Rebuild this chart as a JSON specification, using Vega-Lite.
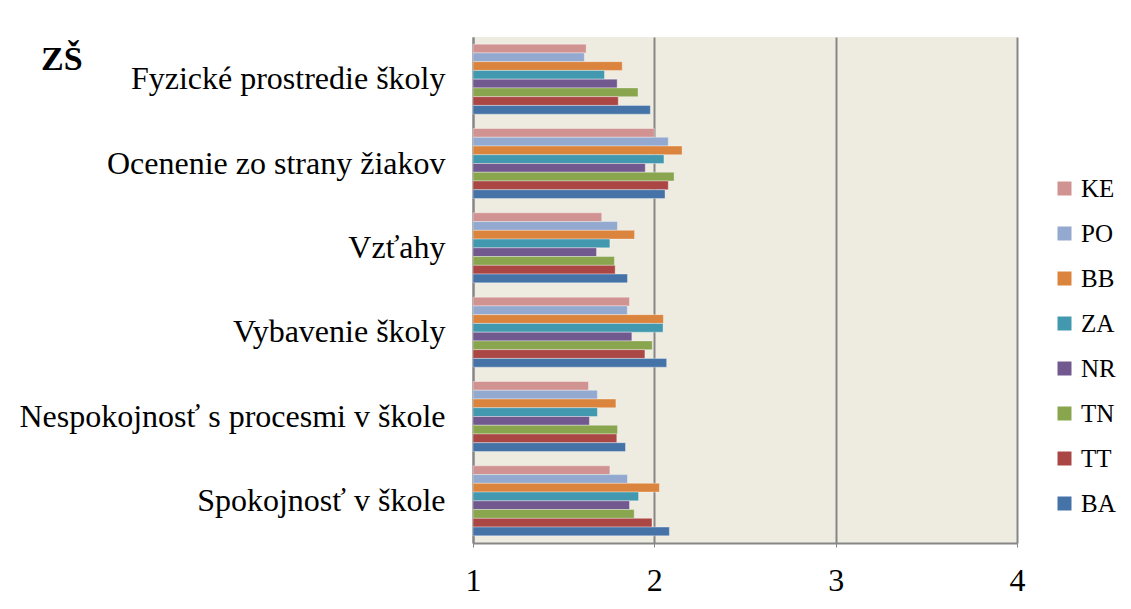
{
  "$schema": "https://vega.github.io/schema/vega-lite/v6.json",
  "width": 544,
  "height": 506,
  "autosize": {"type": "none"},
  "padding": {"left": 473, "top": 37, "right": 114, "bottom": 66},
  "background": "white",
  "title": {"text": "ZŠ", "anchor": "start", "frame": "group", "dx": -432, "dy": 0, "offset": -40, "baseline": "top", "font": "Liberation Serif", "fontSize": 34, "fontWeight": "bold", "color": "black"},
  "data": {"values": [
    {"cat": "Fyzické prostredie školy", "reg": "KE", "v": 1.624},
    {"cat": "Fyzické prostredie školy", "reg": "PO", "v": 1.614},
    {"cat": "Fyzické prostredie školy", "reg": "BB", "v": 1.823},
    {"cat": "Fyzické prostredie školy", "reg": "ZA", "v": 1.725},
    {"cat": "Fyzické prostredie školy", "reg": "NR", "v": 1.795},
    {"cat": "Fyzické prostredie školy", "reg": "TN", "v": 1.91},
    {"cat": "Fyzické prostredie školy", "reg": "TT", "v": 1.801},
    {"cat": "Fyzické prostredie školy", "reg": "BA", "v": 1.978},
    {"cat": "Ocenenie zo strany žiakov", "reg": "KE", "v": 2.0},
    {"cat": "Ocenenie zo strany žiakov", "reg": "PO", "v": 2.077},
    {"cat": "Ocenenie zo strany žiakov", "reg": "BB", "v": 2.153},
    {"cat": "Ocenenie zo strany žiakov", "reg": "ZA", "v": 2.053},
    {"cat": "Ocenenie zo strany žiakov", "reg": "NR", "v": 1.95},
    {"cat": "Ocenenie zo strany žiakov", "reg": "TN", "v": 2.109},
    {"cat": "Ocenenie zo strany žiakov", "reg": "TT", "v": 2.077},
    {"cat": "Ocenenie zo strany žiakov", "reg": "BA", "v": 2.059},
    {"cat": "Vzťahy", "reg": "KE", "v": 1.71},
    {"cat": "Vzťahy", "reg": "PO", "v": 1.797},
    {"cat": "Vzťahy", "reg": "BB", "v": 1.891},
    {"cat": "Vzťahy", "reg": "ZA", "v": 1.755},
    {"cat": "Vzťahy", "reg": "NR", "v": 1.681},
    {"cat": "Vzťahy", "reg": "TN", "v": 1.78},
    {"cat": "Vzťahy", "reg": "TT", "v": 1.784},
    {"cat": "Vzťahy", "reg": "BA", "v": 1.852},
    {"cat": "Vybavenie školy", "reg": "KE", "v": 1.863},
    {"cat": "Vybavenie školy", "reg": "PO", "v": 1.851},
    {"cat": "Vybavenie školy", "reg": "BB", "v": 2.05},
    {"cat": "Vybavenie školy", "reg": "ZA", "v": 2.048},
    {"cat": "Vybavenie školy", "reg": "NR", "v": 1.876},
    {"cat": "Vybavenie školy", "reg": "TN", "v": 1.989},
    {"cat": "Vybavenie školy", "reg": "TT", "v": 1.948},
    {"cat": "Vybavenie školy", "reg": "BA", "v": 2.068},
    {"cat": "Nespokojnosť s procesmi v škole", "reg": "KE", "v": 1.637},
    {"cat": "Nespokojnosť s procesmi v škole", "reg": "PO", "v": 1.686},
    {"cat": "Nespokojnosť s procesmi v škole", "reg": "BB", "v": 1.788},
    {"cat": "Nespokojnosť s procesmi v škole", "reg": "ZA", "v": 1.686},
    {"cat": "Nespokojnosť s procesmi v škole", "reg": "NR", "v": 1.642},
    {"cat": "Nespokojnosť s procesmi v škole", "reg": "TN", "v": 1.797},
    {"cat": "Nespokojnosť s procesmi v škole", "reg": "TT", "v": 1.793},
    {"cat": "Nespokojnosť s procesmi v škole", "reg": "BA", "v": 1.841},
    {"cat": "Spokojnosť v škole", "reg": "KE", "v": 1.755},
    {"cat": "Spokojnosť v škole", "reg": "PO", "v": 1.852},
    {"cat": "Spokojnosť v škole", "reg": "BB", "v": 2.028},
    {"cat": "Spokojnosť v škole", "reg": "ZA", "v": 1.913},
    {"cat": "Spokojnosť v škole", "reg": "NR", "v": 1.863},
    {"cat": "Spokojnosť v škole", "reg": "TN", "v": 1.889},
    {"cat": "Spokojnosť v škole", "reg": "TT", "v": 1.987},
    {"cat": "Spokojnosť v škole", "reg": "BA", "v": 2.083}
  ]},
  "mark": {"type": "bar", "stroke": "white", "strokeOpacity": 0.35, "strokeWidth": 1},
  "encoding": {
    "y": {
      "field": "cat", "type": "nominal",
      "sort": ["Fyzické prostredie školy", "Ocenenie zo strany žiakov", "Vzťahy", "Vybavenie školy", "Nespokojnosť s procesmi v škole", "Spokojnosť v škole"],
      "scale": {"paddingInner": 0.17, "paddingOuter": 0.085},
      "axis": {"title": null, "ticks": false, "labelPadding": 28, "labelFont": "Liberation Serif", "labelFontSize": 32, "labelColor": "black", "domainColor": "#868686", "domainWidth": 2, "labelLimit": 600, "grid": false}
    },
    "yOffset": {
      "field": "reg", "type": "nominal",
      "sort": ["KE", "PO", "BB", "ZA", "NR", "TN", "TT", "BA"]
    },
    "x": {
      "field": "v", "type": "quantitative",
      "scale": {"domain": [1, 4], "zero": false, "nice": false},
      "axis": {"title": null, "values": [1, 2, 3, 4], "format": "d", "tickSize": 4, "tickColor": "#868686", "labelPadding": 18, "labelFont": "Liberation Serif", "labelFontSize": 32, "labelColor": "black", "domainColor": "#868686", "domainWidth": 2, "grid": true, "gridColor": "#868686", "gridWidth": 2, "labelFlush": false}
    },
    "x2": {"datum": 1},
    "color": {
      "field": "reg", "type": "nominal",
      "sort": ["KE", "PO", "BB", "ZA", "NR", "TN", "TT", "BA"],
      "scale": {"domain": ["KE", "PO", "BB", "ZA", "NR", "TN", "TT", "BA"], "range": ["#D19392", "#93A9CF", "#DB843D", "#4198AF", "#71588F", "#89A54E", "#AA4643", "#4572A7"]},
      "legend": {"title": null, "orient": "none", "legendX": 579, "legendY": 139, "padding": 0, "symbolType": "square", "symbolSize": 196, "symbolStrokeWidth": 0, "symbolOpacity": 1, "labelFont": "Liberation Serif", "labelFontSize": 25, "labelColor": "black", "rowPadding": 19, "labelOffset": 4}
    }
  },
  "config": {
    "font": "Liberation Serif",
    "view": {"fill": "#EEECE1", "stroke": null},
    "axis": {"gridOpacity": 1},
    "legend": {"labelFont": "Liberation Serif"}
  }
}
